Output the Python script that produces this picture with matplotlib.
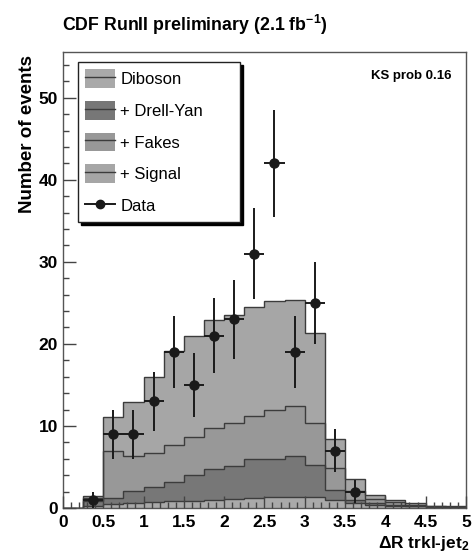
import numpy as np
import matplotlib
matplotlib.use('Agg')
import matplotlib.pyplot as plt
from matplotlib.patches import Patch
from matplotlib.lines import Line2D
from matplotlib.ticker import MultipleLocator, FuncFormatter

plt.rcParams['font.family'] = ['Liberation Sans', 'DejaVu Sans']
plt.rcParams['mathtext.fontset'] = 'custom'
plt.rcParams['mathtext.rm'] = 'Liberation Sans:bold'
plt.rcParams['mathtext.default'] = 'rm'

# bin edges of Delta R (trkl, jet2), 0.25 wide
edges = np.arange(0, 5.001, 0.25)

# expected events per process (stacked in this order)
diboson = [0, 0.3, 0.5, 0.6, 0.7, 0.8, 0.9, 1.0, 1.1, 1.2, 1.3, 1.3, 1.3, 1.0, 0.6, 0.4, 0.3, 0.2, 0.1, 0.05]
drellyan = [0, 0.6, 0.7, 1.5, 1.9, 2.4, 3.1, 3.8, 4.0, 4.8, 4.7, 5.0, 3.9, 1.2, 0.4, 0.2, 0.1, 0.05, 0, 0]
fakes = [0, 0.3, 5.7, 4.2, 4.1, 4.5, 4.7, 4.9, 5.2, 5.2, 5.9, 6.1, 5.2, 2.7, 1.1, 0.5, 0.3, 0.15, 0.1, 0.05]
signal = [0, 0.2, 4.2, 6.6, 9.3, 11.4, 12.3, 13.2, 13.2, 13.3, 13.3, 13.0, 10.9, 3.5, 1.4, 0.5, 0.3, 0.2, 0.1, 0.1]

# observed data
data_x = [0.375, 0.625, 0.875, 1.125, 1.375, 1.625, 1.875, 2.125, 2.375, 2.625, 2.875, 3.125, 3.375, 3.625]
data_y = [1, 9, 9, 13, 19, 15, 21, 23, 31, 42, 19, 25, 7, 2]

labels = ['Diboson', '+ Drell-Yan', '+ Fakes', '+ Signal']
colors = ['#a9a9a9', '#777777', '#989898', '#a6a6a6']
edgec = '#3c3c3c'

stack = np.cumsum([diboson, drellyan, fakes, signal], axis=0)

fig = plt.figure(figsize=(4.73, 5.57), dpi=100)
ax = fig.add_axes([0.133, 0.088, 0.852, 0.819])

# ROOT style: each cumulative histogram drawn from zero, largest first
for i in range(3, -1, -1):
    ax.stairs(stack[i], edges, baseline=0, fill=True, color=colors[i], zorder=1)
    ax.stairs(stack[i], edges, baseline=0, fill=False, color=edgec, lw=1, zorder=1.2)

ax.errorbar(data_x, data_y, yerr=np.sqrt(data_y), xerr=0.125, fmt='o',
            color='#1a1a1a', ms=6.5, elinewidth=1.4, capsize=0, zorder=5)

ax.set_xlim(0, 5)
ax.set_ylim(0, 55.6)
ax.xaxis.set_major_locator(MultipleLocator(0.5))
ax.xaxis.set_minor_locator(MultipleLocator(0.1))
ax.yaxis.set_major_locator(MultipleLocator(10))
ax.yaxis.set_minor_locator(MultipleLocator(2))
ax.xaxis.set_major_formatter(FuncFormatter(lambda v, p: '%g' % v))
ax.tick_params(which='both', direction='in', colors='#444444', labelcolor='black',
               labelsize=12.5, width=1)
ax.tick_params(which='major', length=9)
ax.tick_params(which='minor', length=4.5)
ax.tick_params(axis='x', pad=5)
for lab in ax.get_xticklabels() + ax.get_yticklabels():
    lab.set_fontweight('bold')
ax.set_axisbelow(False)
for s in ax.spines.values():
    s.set_color('#555555')
    s.set_linewidth(1)

ax.set_ylabel('Number of events', fontsize=13.5, fontweight='bold', loc='top')
ax.yaxis.set_label_coords(-0.066, 0.993)
ax.set_xlabel('ΔR trkl-jet$_2$', fontsize=12.5, fontweight='bold', loc='right')
ax.xaxis.set_label_coords(1.008, -0.058)

fig.text(0.131, 0.944, 'CDF RunII preliminary (2.1 fb$^{-1}$)', fontsize=12.8,
         fontweight='bold', va='baseline', ha='left')
ax.text(0.965, 0.947, 'KS prob 0.16', transform=ax.transAxes, fontsize=9.5,
        fontweight='bold', ha='right', va='center')

handles = [(Patch(fc=c, ec='none'), Line2D([], [], color=edgec, lw=1)) for c in colors]
handles.append(Line2D([], [], color='#1a1a1a', marker='o', ms=6, lw=1.4))
leg = ax.legend(handles, labels + ['Data'], loc='upper left', mode='expand',
                bbox_to_anchor=(0.037, 0.636, 0.402, 0.342), borderaxespad=0,
                fontsize=12, fancybox=False, edgecolor='#222222', framealpha=1,
                shadow={'color': 'black', 'alpha': 1}, handlelength=1.8,
                handleheight=1.35, labelspacing=0.78, handletextpad=0.3,
                borderpad=0.45)
leg.get_frame().set_linewidth(1)

fig.savefig('out.png', dpi=100, facecolor='white')
